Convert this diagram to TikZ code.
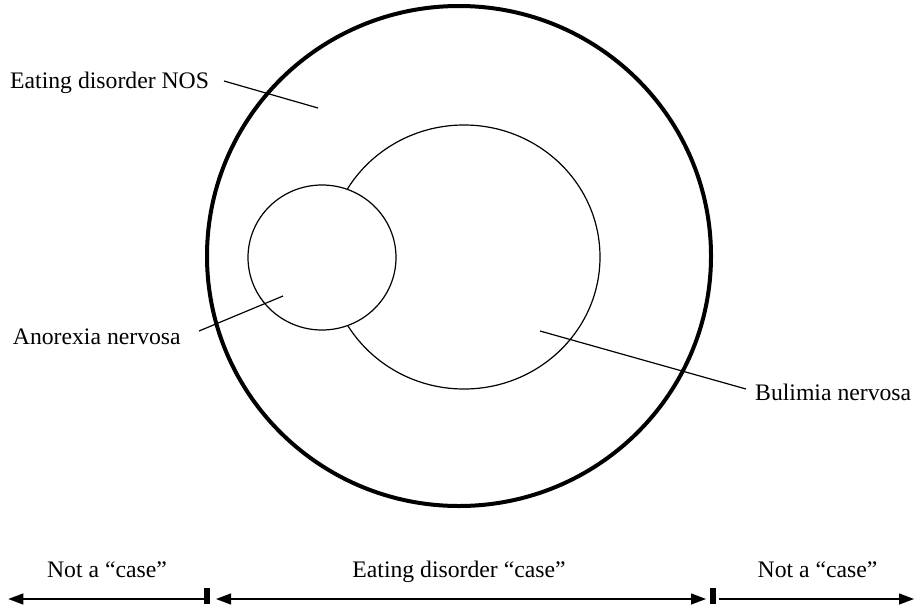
\documentclass[tikz,border=0pt]{standalone}
\usepackage{fontspec}
\setmainfont{Liberation Serif}
\usetikzlibrary{arrows.meta,shapes.geometric}
\begin{document}
\begin{tikzpicture}[x=1pt,y=-1pt,
  lbl/.style={font=\fontsize{23.7}{28}\selectfont, inner sep=0pt},
  leader/.style={line width=1.2pt},
  ring/.style={ellipse, draw, inner sep=0pt, outer sep=0pt, line width=1.2pt},
  span/.style={line width=1.3pt},
  tip/.tip={Triangle[length=15pt,width=11pt]},
  tickmark/.style={line width=6pt}]
\useasboundingbox (0,0) rectangle (917,605);
% circles
\node[ring, line width=4pt, minimum width=504pt, minimum height=500pt] (nos) at (459,256) {};
\node[ring, minimum width=272pt, minimum height=264pt] (bn) at (464,257) {};
\node[ring, fill=white, minimum width=148pt, minimum height=145pt] (an) at (322,257.5) {};
% labels
\node[lbl, anchor=base west] (tnos) at (10,88.3) {Eating disorder NOS};
\node[lbl, anchor=base west] (tan) at (12.7,344.5) {Anorexia nervosa};
\node[lbl, anchor=base west] (tbn) at (755,400) {Bulimia nervosa};
% leaders
\coordinate (nosA) at (224,81);  \coordinate (nosB) at (318,108);
\coordinate (anA) at (199,331);  \coordinate (anB) at (283,296);
\coordinate (bnA) at (540,331);  \coordinate (bnB) at (746,389);
\draw[leader] (nosA) -- (nosB);
\draw[leader] (anA) -- (anB);
\draw[leader] (bnA) -- (bnB);
% bottom scale
\node[lbl, anchor=base] (l1) at (107,577.7) {Not a “case”};
\node[lbl, anchor=base] (l2) at (459,577.7) {Eating disorder “case”};
\node[lbl, anchor=base] (l3) at (817.5,577.7) {Not a “case”};
\coordinate (t1a) at (207,588); \coordinate (t1b) at (207,604);
\coordinate (t2a) at (713,588); \coordinate (t2b) at (713,604);
\draw[tickmark] (t1a) -- (t1b);
\draw[tickmark] (t2a) -- (t2b);
\coordinate (aL0) at (204,599); \coordinate (aL1) at (8.3,599);
\coordinate (aM0) at (216,599); \coordinate (aM1) at (706,599);
\coordinate (aR0) at (719,599); \coordinate (aR1) at (914,599);
\draw[span, -tip] (aL0) -- (aL1);
\draw[span, tip-tip] (aM0) -- (aM1);
\draw[span, -tip] (aR0) -- (aR1);
\end{tikzpicture}
\end{document}
